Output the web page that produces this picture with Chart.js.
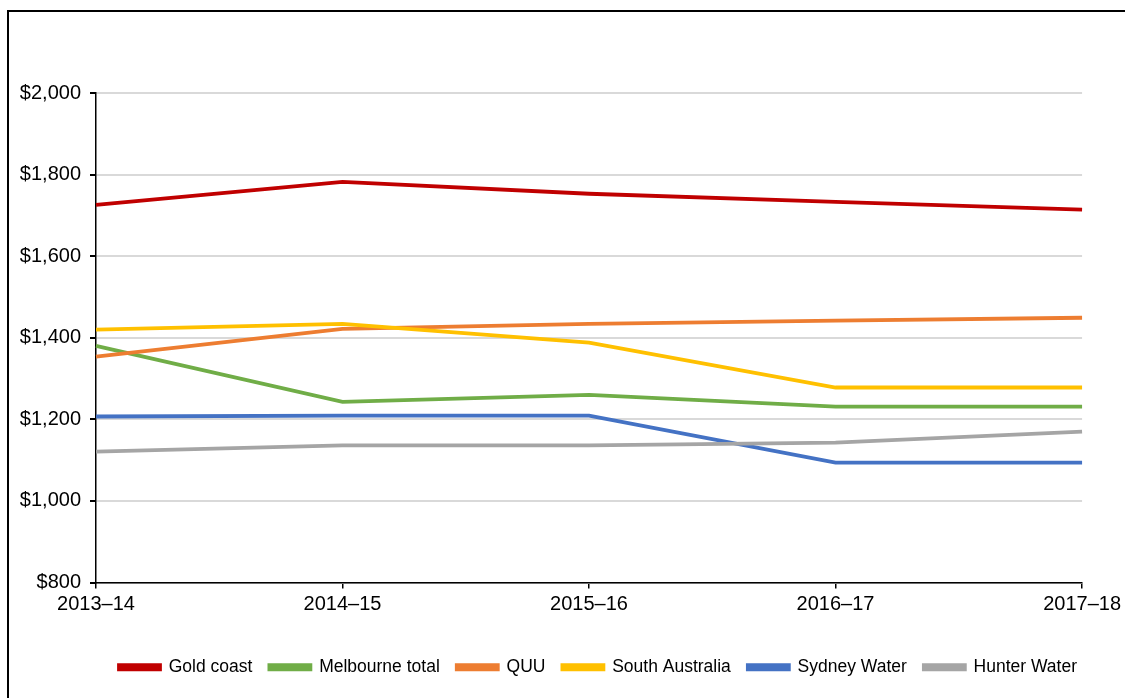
<!DOCTYPE html>
<html>
<head>
<meta charset="utf-8">
<script src="https://cdn.jsdelivr.net/npm/chart.js@4/dist/chart.umd.min.js"></script>
<style>
  html, body { margin: 0; padding: 0; background: #fff; }
  #wrap { position: relative; width: 1125px; height: 698px; overflow: hidden; }
  #frame { position: absolute; left: 7px; top: 10px; width: 1200px; height: 800px; border-left: 2px solid #000; border-top: 2px solid #000; }
  #chart { position: absolute; left: 0; top: 0; }
</style>
</head>
<body>
<div id="wrap">
  <div id="frame"></div>
  <canvas id="chart" width="1125" height="698"></canvas>
</div>
<script>
  const years = ['2013–14', '2014–15', '2015–16', '2016–17', '2017–18'];

  const goldCoast = [1726, 1782, 1753, 1733, 1714];
  const melbourne = [1380, 1243, 1260, 1231, 1231];
  const quu = [1354, 1422, 1434, 1442, 1449];
  const southAustralia = [1420, 1434, 1388, 1278, 1278];
  const sydneyWater = [1207, 1209, 1209, 1094, 1094];
  const hunterWater = [1121, 1136, 1136, 1143, 1170];

  const yTicks = [800, 1000, 1200, 1400, 1600, 1800, 2000];

  const FONT = 'Liberation Sans, Arial, sans-serif';

  // later series sit on top of earlier ones
  const series = [
    { label: 'Gold coast', data: goldCoast, color: '#c00000' },
    { label: 'Melbourne total', data: melbourne, color: '#70ad47' },
    { label: 'QUU', data: quu, color: '#ed7d31' },
    { label: 'South Australia', data: southAustralia, color: '#ffc000' },
    { label: 'Sydney Water', data: sydneyWater, color: '#4472c4' },
    { label: 'Hunter Water', data: hunterWater, color: '#a5a5a5' }
  ];

  // nudge the legend row so it sits under the plot
  const legendShift = {
    id: 'legendShift',
    afterLayout(chart) {
      const dx = 55;
      chart.legend.left += dx;
      chart.legend.right += dx;
    }
  };

  new Chart(document.getElementById('chart').getContext('2d'), {
    type: 'line',
    data: {
      labels: years,
      datasets: series.map((s, i) => ({
        label: s.label,
        data: s.data,
        borderColor: s.color,
        backgroundColor: s.color,
        borderWidth: 3.8,
        pointRadius: 0,
        tension: 0,
        order: series.length - i
      }))
    },
    options: {
      responsive: false,
      animation: false,
      layout: { padding: { left: 0, top: 93, right: 39, bottom: 12 } },
      plugins: {
        tooltip: { enabled: false },
        legend: {
          position: 'bottom',
          labels: {
            sort: (a, b) => a.datasetIndex - b.datasetIndex,
            boxWidth: 41,
            boxHeight: 4,
            padding: 17,
            color: '#000',
            font: { family: FONT, size: 17.5 }
          }
        }
      },
      scales: {
        x: {
          offset: false,
          afterFit: s => { s.height = 59; },
          grid: { drawOnChartArea: false, drawTicks: true, tickLength: 6, color: '#000', lineWidth: 1.5 },
          border: { color: '#000', width: 1.5 },
          ticks: { color: '#000', padding: 4, maxRotation: 0, font: { family: FONT, size: 20 } }
        },
        y: {
          min: 800,
          max: 2000,
          afterFit: s => { s.width = 96; },
          afterBuildTicks: s => { s.ticks = yTicks.map(v => ({ value: v })); },
          grid: { color: '#d9d9d9', lineWidth: 2, tickColor: '#000', tickLength: 6 },
          border: { color: '#000', width: 1.5 },
          ticks: {
            color: '#000',
            padding: 9,
            font: { family: FONT, size: 20 },
            callback: v => '$' + v.toLocaleString('en-US')
          }
        }
      }
    },
    plugins: [legendShift]
  });
</script>
</body>
</html>
